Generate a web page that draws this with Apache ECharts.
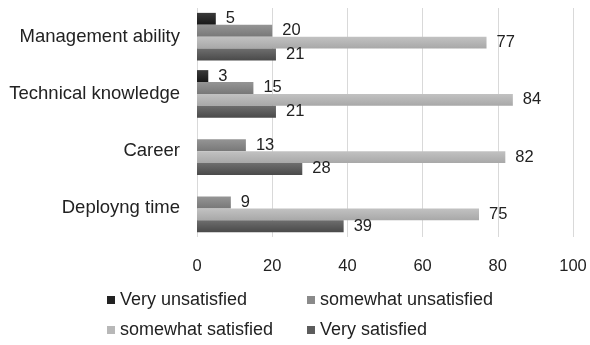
<!DOCTYPE html>
<html>
<head>
<meta charset="utf-8">
<script src="https://cdn.jsdelivr.net/npm/echarts@6/dist/echarts.min.js"></script>
<style>
  html, body { margin: 0; padding: 0; background: #fff; }
  #chart { width: 590px; height: 345px; }
</style>
</head>
<body>
<div id="chart"></div>
<script>
// Satisfaction survey: share of answers per topic
const categories = ['Management ability', 'Technical knowledge', 'Career', 'Deployng time'];
const veryUnsatisfied = [5, 3, null, null];
const somewhatUnsatisfied = [20, 15, 13, 9];
const somewhatSatisfied = [77, 84, 82, 75];
const verySatisfied = [21, 21, 28, 39];
const xTicks = { min: 0, max: 100, interval: 20 };

const FONT = '"Liberation Sans", Arial, sans-serif';

function grad(top, bottom) {
  return new echarts.graphic.LinearGradient(0, 0, 0, 1, [
    { offset: 0, color: top },
    { offset: 1, color: bottom }
  ]);
}

// legend slot: [left, top] in a two-column block under the plot
const seriesDefs = [
  { name: 'Very unsatisfied', data: veryUnsatisfied, top: '#3a3a3a', bottom: '#181818', legend: '#222222', slot: [107, 291] },
  { name: 'somewhat unsatisfied', data: somewhatUnsatisfied, top: '#959595', bottom: '#787878', legend: '#8a8a8a', slot: [307, 291] },
  { name: 'somewhat satisfied', data: somewhatSatisfied, top: '#c2c2c2', bottom: '#a8a8a8', legend: '#b8b8b8', slot: [107, 321] },
  { name: 'Very satisfied', data: verySatisfied, top: '#6e6e6e', bottom: '#4a4a4a', legend: '#5c5c5c', slot: [307, 321] }
];

const chart = echarts.init(document.getElementById('chart'), null, { renderer: 'canvas' });

chart.setOption({
  animation: false,
  backgroundColor: '#ffffff',
  grid: { left: 197, right: 17, top: 8, bottom: 108 },
  xAxis: {
    type: 'value',
    min: xTicks.min,
    max: xTicks.max,
    interval: xTicks.interval,
    axisLine: { show: false },
    axisTick: { show: false },
    splitLine: { show: true, lineStyle: { color: '#d9d9d9', width: 1 } },
    axisLabel: { color: '#222', fontSize: 16.5, fontFamily: FONT, margin: 21 }
  },
  yAxis: {
    type: 'category',
    inverse: true,
    data: categories,
    axisLine: { show: false },
    axisTick: { show: false },
    axisLabel: { color: '#222', fontSize: 18.5, fontFamily: FONT, margin: 17 }
  },
  legend: seriesDefs.map(s => ({
    left: s.slot[0],
    top: s.slot[1],
    padding: 0,
    itemWidth: 8,
    itemHeight: 8,
    itemGap: 4,
    icon: 'rect',
    data: [{ name: s.name, itemStyle: { color: s.legend } }],
    textStyle: { color: '#222', fontSize: 18, fontFamily: FONT }
  })),
  series: seriesDefs.map(s => ({
    type: 'bar',
    name: s.name,
    data: s.data,
    barGap: '0%',
    barCategoryGap: '17%',
    itemStyle: { color: grad(s.top, s.bottom) },
    emphasis: { disabled: true },
    label: {
      show: true,
      position: 'right',
      distance: 10,
      color: '#222',
      fontSize: 16.5,
      fontFamily: FONT
    }
  }))
});
</script>
</body>
</html>
